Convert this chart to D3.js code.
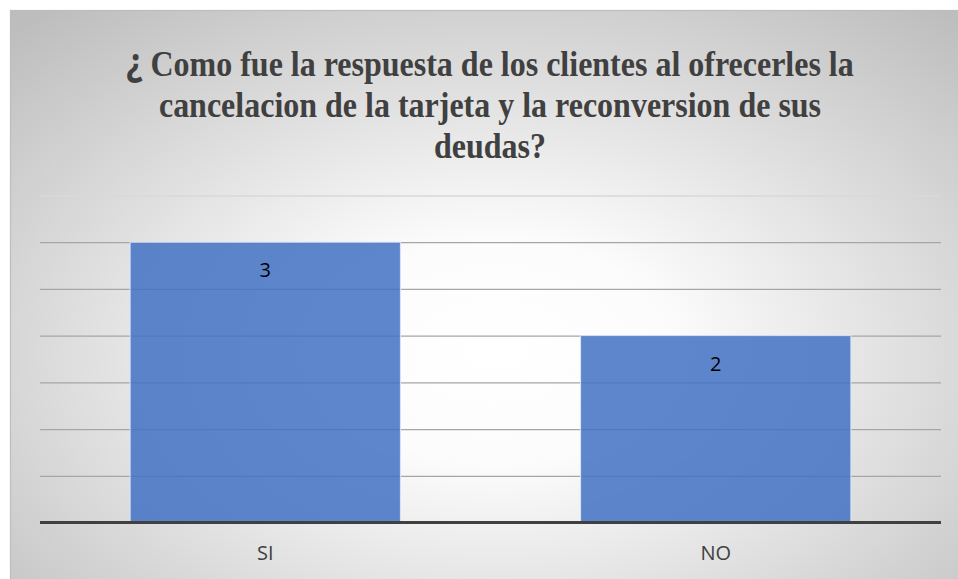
<!DOCTYPE html>
<html>
<head>
<meta charset="utf-8">
<script src="https://cdn.jsdelivr.net/npm/d3@7"></script>
<style>
html,body{margin:0;padding:0;background:#fff;overflow:hidden;}
svg{display:block;}
</style>
</head>
<body>
<svg id="chart" width="958" height="579"></svg>
<script>
const categories = ["SI", "NO"];
const values = [3, 2];
const yTicks = [0, 0.5, 1, 1.5, 2, 2.5, 3, 3.5];
const titleLines = [
  "¿ Como fue la respuesta de los clientes al ofrecerles la",
  "cancelacion de la tarjeta y la reconversion de sus",
  "deudas?"
];

(function () {
const svg = d3.select("#chart");
const defs = svg.append("defs");
const grad = defs.append("radialGradient").attr("id", "bg")
  .attr("cx", "0.5").attr("cy", "0.55").attr("r", "0.72").attr("fx", "0.5").attr("fy", "0.55");
grad.append("stop").attr("offset", "0").attr("stop-color", "#ffffff");
grad.append("stop").attr("offset", "0.25").attr("stop-color", "#fcfcfc");
grad.append("stop").attr("offset", "1").attr("stop-color", "#bdbdbd");

svg.append("rect").attr("x", 10.5).attr("y", 10.5).attr("width", 970).attr("height", 620)
  .attr("fill", "url(#bg)").attr("stroke", "#bdbdbd").attr("stroke-width", 1.2);

const pLeft = 40, pRight = 941, pTop = 195.5, pBottom = 522.5;
const x = d3.scaleBand().domain(categories).range([pLeft, pRight]).paddingInner(0.4).paddingOuter(0.2);
const y = d3.scaleLinear().domain([0, 3.5]).range([pBottom, pTop]);

// gridlines
const grid = d3.axisLeft(y).tickValues(yTicks.filter(d => d > 0)).tickSize(-(pRight - pLeft)).tickFormat("");
const gg = svg.append("g").attr("transform", `translate(${pLeft},0)`).call(grid);
gg.select(".domain").remove();
gg.selectAll(".tick line")
  .attr("stroke", d => d === 3.5 ? "#d9d9d9" : "#a6a6a6")
  .attr("stroke-width", 1.3);

// bars
svg.append("g").selectAll("rect").data(categories).join("rect")
  .attr("x", d => x(d))
  .attr("y", (d, i) => y(values[i]))
  .attr("width", x.bandwidth())
  .attr("height", (d, i) => y(0) - y(values[i]))
  .attr("fill", "#4472c4").attr("fill-opacity", 0.86)
  .attr("stroke", "#dbe4f4").attr("stroke-width", 1);

// data labels
svg.append("g").selectAll("text").data(categories).join("text")
  .attr("x", d => x(d) + x.bandwidth() / 2)
  .attr("y", (d, i) => y(values[i]) + 35)
  .attr("text-anchor", "middle")
  .attr("font-family", "'Open Sans', 'Liberation Sans', sans-serif")
  .attr("font-size", 20)
  .attr("fill", "#000")
  .text((d, i) => values[i]);

// x axis
const xa = d3.axisBottom(x).tickSize(0).tickPadding(23);
const xg = svg.append("g").attr("transform", `translate(0,${pBottom})`).call(xa);
xg.select(".domain").attr("stroke", "#404040").attr("stroke-width", 3.2)
  .attr("d", `M${pLeft},0H${pRight}`);
xg.selectAll(".tick text")
  .attr("font-family", "'Open Sans', 'Liberation Sans', sans-serif")
  .attr("font-size", 20).attr("fill", "#404040").attr("dy", "0.71em");

// title
const tg = svg.append("g").attr("transform", "translate(490,0)");
const tt = tg.selectAll("text").data(titleLines).join("text")
  .attr("text-anchor", "middle")
  .attr("transform", (d, i) => `translate(0,${76 + i * 41}) scale(1,1.15)`)
  .attr("font-family", "'Liberation Serif', 'Times New Roman', serif")
  .attr("font-weight", "bold")
  .attr("font-size", 32)
  .attr("fill", "#404040");
tt.each(function (d) {
  const t = d3.select(this);
  if (d.startsWith("¿")) {
    t.append("tspan").attr("font-family", "'Open Sans', sans-serif").attr("font-size", 34).text("¿");
    t.append("tspan").text(d.slice(1));
  } else {
    t.text(d);
  }
});
})();
</script>
</body>
</html>
